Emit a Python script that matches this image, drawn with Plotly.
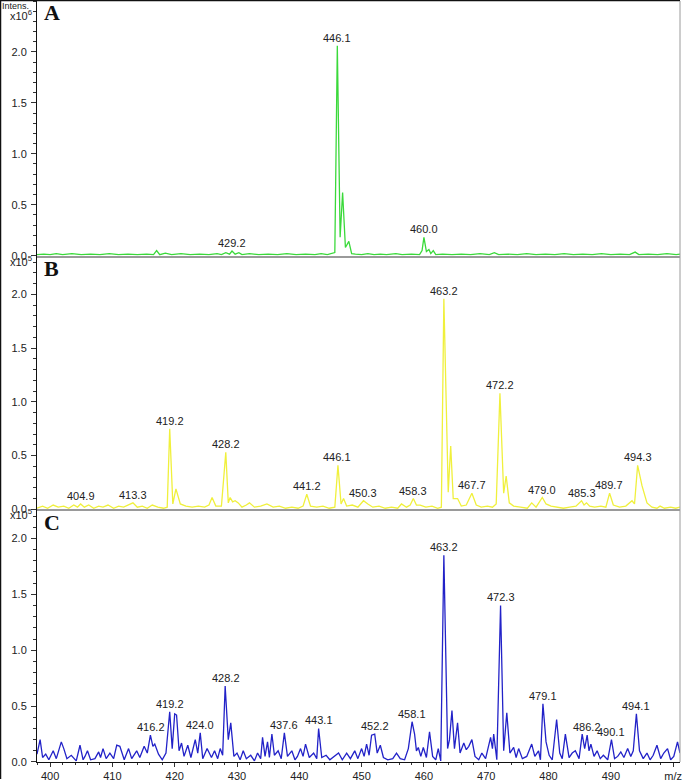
import plotly.graph_objects as go

# ---------------- data ----------------
mz_A = [397.9, 399.0, 400.0, 401.0, 402.0, 403.5, 405.0, 406.5, 408.0, 409.5, 411.0, 412.5, 414.0, 415.5,
        416.6, 417.1, 417.6, 418.5, 419.5, 421.0, 422.5, 424.0, 425.5, 426.8, 427.5, 428.2, 428.8, 429.2,
        429.7, 430.3, 430.8, 432.0, 433.5, 435.0, 436.5, 438.0, 439.5, 441.0, 442.5, 443.5, 444.5, 445.2,
        445.7, 446.1, 446.55, 446.95, 447.4, 447.95, 448.4, 449.0, 450.0, 451.0, 452.0, 453.0, 454.0, 455.5,
        456.5, 458.0, 459.3, 459.7, 460.0, 460.4, 460.8, 461.1, 461.5, 461.9, 463.0, 464.5, 466.0, 467.5,
        469.0, 470.5, 471.3, 472.0, 473.5, 475.0, 476.5, 478.0, 479.5, 481.0, 482.5, 484.0, 485.5, 487.0,
        488.5, 490.0, 491.5, 493.0, 493.9, 494.5, 496.0, 497.5, 499.0, 500.5, 501.1]
int_A = [0.01, 0.015, 0.01, 0.02, 0.01, 0.02, 0.01, 0.015, 0.01, 0.02, 0.01, 0.015, 0.01, 0.015,
         0.01, 0.05, 0.01, 0.025, 0.01, 0.02, 0.01, 0.015, 0.01, 0.02, 0.01, 0.03, 0.015, 0.045,
         0.015, 0.03, 0.01, 0.02, 0.01, 0.015, 0.01, 0.02, 0.01, 0.015, 0.01, 0.02, 0.01, 0.02,
         0.03, 2.06, 0.18, 0.62, 0.08, 0.14, 0.02, 0.015, 0.01, 0.02, 0.01, 0.015, 0.01, 0.02,
         0.01, 0.015, 0.01, 0.05, 0.18, 0.04, 0.06, 0.02, 0.05, 0.01, 0.015, 0.01, 0.015, 0.01,
         0.02, 0.01, 0.03, 0.01, 0.015, 0.01, 0.02, 0.01, 0.015, 0.01, 0.02, 0.01, 0.015, 0.01,
         0.02, 0.01, 0.015, 0.01, 0.035, 0.01, 0.015, 0.01, 0.02, 0.01, 0.015]

mz_B = [397.9, 398.8, 399.6, 400.5, 401.3, 402.2, 403.0, 403.8, 404.4, 404.9, 405.5, 406.2, 407.0, 407.8,
        408.5, 409.3, 410.2, 411.0, 411.8, 412.6, 413.3, 414.0, 414.8, 415.6, 416.4, 417.3, 418.2, 418.8,
        419.2, 419.7, 420.2, 420.9, 421.8, 422.8, 423.8, 424.8, 425.5, 426.0, 426.6, 427.5, 428.2, 428.6,
        428.9, 429.3, 429.7, 430.2, 430.8, 431.5, 432.0, 432.8, 433.8, 434.8, 435.8, 436.8, 437.8, 438.8,
        439.8, 440.6, 441.2, 441.8, 442.8, 443.8, 444.8, 445.7, 446.2, 446.7, 447.1, 447.6, 448.5, 449.4,
        450.3, 451.0, 451.8, 452.8, 453.8, 454.8, 455.8, 456.4, 457.2, 457.8, 458.3, 458.8, 459.4, 460.3,
        461.3, 462.2, 462.8, 463.2, 463.9, 464.3, 464.7, 465.4, 466.0, 466.8, 467.7, 468.4, 469.2, 470.2,
        471.0, 471.6, 472.2, 472.8, 473.2, 473.7, 474.4, 475.5, 476.6, 477.3, 478.0, 479.0, 479.6, 480.4,
        481.4, 482.4, 483.4, 484.4, 485.3, 485.7, 486.1, 486.6, 487.4, 488.4, 489.2, 489.8, 490.4, 491.4,
        492.4, 493.4, 493.8, 494.3, 495.0, 495.8, 496.6, 497.4, 497.9, 498.6, 499.6, 500.4, 501.1]
int_B = [0.01, 0.03, 0.01, 0.04, 0.02, 0.03, 0.01, 0.04, 0.02, 0.05, 0.02, 0.04, 0.01, 0.03,
         0.02, 0.04, 0.01, 0.03, 0.02, 0.04, 0.06, 0.02, 0.03, 0.01, 0.04, 0.02, 0.01, 0.02,
         0.75, 0.05, 0.19, 0.05, 0.03, 0.02, 0.03, 0.02, 0.04, 0.11, 0.03, 0.03, 0.53, 0.06,
         0.11, 0.07, 0.08, 0.06, 0.02, 0.04, 0.06, 0.02, 0.03, 0.05, 0.02, 0.03, 0.01, 0.02,
         0.01, 0.03, 0.14, 0.03, 0.02, 0.03, 0.01, 0.02, 0.41, 0.05, 0.10, 0.03, 0.04, 0.02,
         0.08, 0.05, 0.02, 0.03, 0.01, 0.02, 0.01, 0.05, 0.02, 0.04, 0.10, 0.04, 0.04, 0.02,
         0.03, 0.01, 0.02, 1.96, 0.16, 0.59, 0.10, 0.10, 0.03, 0.04, 0.15, 0.04, 0.02, 0.03,
         0.02, 0.05, 1.08, 0.15, 0.31, 0.06, 0.03, 0.02, 0.01, 0.06, 0.02, 0.11, 0.05, 0.03,
         0.02, 0.01, 0.02, 0.03, 0.08, 0.04, 0.06, 0.03, 0.02, 0.03, 0.02, 0.15, 0.04, 0.02,
         0.03, 0.08, 0.05, 0.41, 0.22, 0.06, 0.02, 0.01, 0.03, 0.01, 0.02, 0.01, 0.02]

mz_C = [397.9, 398.4, 398.8, 399.3, 399.8, 400.5, 401.0, 401.8, 402.2, 402.7, 403.4, 404.2, 404.8, 405.3,
        405.6, 406.0, 406.5, 407.2, 407.8, 408.1, 408.5, 409.0, 409.6, 410.2, 410.7, 411.2, 411.9, 412.6,
        413.1, 413.9, 414.4, 415.1, 415.6, 416.1, 416.5, 416.8, 417.4, 418.0, 418.6, 419.2, 419.6, 420.0,
        420.3, 420.7, 421.1, 421.5, 422.1, 422.6, 423.3, 423.7, 424.1, 424.5, 425.2, 425.9, 426.4, 426.9,
        427.3, 427.7, 428.1, 428.6, 429.0, 429.5, 430.0, 430.5, 431.0, 431.5, 432.2, 432.8, 433.3, 433.8,
        434.1, 434.5, 434.9, 435.2, 435.6, 436.0, 436.6, 437.1, 437.6, 438.1, 438.8, 439.3, 439.7, 440.2,
        440.6, 441.0, 441.6, 442.3, 442.8, 443.1, 443.6, 444.3, 444.9, 445.6, 446.3, 446.9, 447.6, 448.2,
        448.9, 449.4, 450.0, 450.4, 450.8, 451.2, 451.6, 452.1, 452.5, 453.0, 453.5, 454.2, 455.0, 455.6,
        456.2, 456.9, 457.5, 458.1, 458.5, 458.8, 459.1, 459.5, 459.9, 460.4, 460.9, 461.4, 461.9, 462.3,
        462.7, 463.2, 463.8, 464.1, 464.5, 464.9, 465.4, 465.8, 466.4, 466.8, 467.2, 467.7, 468.2, 468.8,
        469.3, 469.9, 470.7, 471.0, 471.2, 471.7, 472.3, 472.8, 473.3, 473.8, 474.4, 474.8, 475.2, 475.8,
        476.5, 477.3, 477.8, 478.4, 478.7, 479.1, 479.6, 480.1, 480.6, 481.3, 481.8, 482.2, 482.7, 483.3,
        483.8, 484.3, 484.9, 485.4, 485.8, 486.2, 486.5, 486.8, 487.3, 487.8, 488.3, 488.8, 489.5, 490.1,
        490.6, 491.1, 491.6, 492.1, 492.7, 493.2, 493.6, 494.1, 494.6, 495.2, 495.8, 496.3, 496.8, 497.4,
        498.0, 498.5, 499.1, 499.6, 500.1, 500.7, 501.1]
int_C = [0.07, 0.20, 0.04, 0.07, 0.02, 0.10, 0.03, 0.18, 0.12, 0.03, 0.06, 0.01, 0.15, 0.02,
         0.05, 0.10, 0.02, 0.03, 0.09, 0.04, 0.12, 0.03, 0.08, 0.03, 0.15, 0.14, 0.02, 0.12,
         0.03, 0.10, 0.04, 0.14, 0.08, 0.24, 0.14, 0.16, 0.07, 0.02, 0.08, 0.45, 0.12, 0.43,
         0.42, 0.10, 0.17, 0.05, 0.15, 0.04, 0.20, 0.08, 0.26, 0.03, 0.12, 0.04, 0.10, 0.03,
         0.12, 0.06, 0.68, 0.20, 0.35, 0.05, 0.08, 0.02, 0.10, 0.03, 0.06, 0.01, 0.08, 0.03,
         0.22, 0.05, 0.18, 0.04, 0.25, 0.06, 0.10, 0.03, 0.26, 0.05, 0.10, 0.02, 0.05, 0.12,
         0.05, 0.16, 0.04, 0.08, 0.03, 0.30, 0.04, 0.06, 0.02, 0.05, 0.08, 0.02, 0.08, 0.03,
         0.10, 0.03, 0.12, 0.05, 0.16, 0.06, 0.24, 0.25, 0.08, 0.15, 0.04, 0.02, 0.03, 0.08,
         0.03, 0.02, 0.12, 0.36, 0.25, 0.10, 0.13, 0.05, 0.13, 0.04, 0.27, 0.05, 0.02, 0.12,
         0.01, 1.85, 0.12, 0.20, 0.46, 0.12, 0.35, 0.08, 0.17, 0.11, 0.14, 0.20, 0.05, 0.02,
         0.08, 0.03, 0.22, 0.12, 0.25, 0.02, 1.40, 0.10, 0.44, 0.08, 0.13, 0.04, 0.12, 0.03,
         0.05, 0.16, 0.05, 0.10, 0.02, 0.52, 0.18, 0.06, 0.02, 0.38, 0.08, 0.03, 0.25, 0.04,
         0.08, 0.10, 0.03, 0.25, 0.12, 0.24, 0.10, 0.16, 0.05, 0.10, 0.03, 0.06, 0.02, 0.20,
         0.03, 0.05, 0.09, 0.04, 0.12, 0.05, 0.10, 0.43, 0.10, 0.03, 0.08, 0.02, 0.06, 0.15,
         0.03, 0.08, 0.12, 0.02, 0.05, 0.18, 0.08]

lab_mz_A = [429.2, 446.1, 460.0]
lab_int_A = [0.045, 2.06, 0.18]
lab_mz_B = [404.9, 413.3, 419.2, 428.2, 441.2, 446.1, 450.3, 458.3, 463.2, 467.7, 472.2, 479.0, 485.3, 489.7, 494.3]
lab_int_B = [0.05, 0.06, 0.75, 0.53, 0.14, 0.41, 0.08, 0.10, 1.96, 0.15, 1.08, 0.11, 0.08, 0.15, 0.41]
lab_mz_C = [416.2, 419.2, 424.0, 428.2, 437.6, 443.1, 452.2, 458.1, 463.2, 472.3, 479.1, 486.2, 490.1, 494.1]
lab_int_C = [0.24, 0.45, 0.26, 0.68, 0.26, 0.30, 0.25, 0.36, 1.85, 1.40, 0.52, 0.24, 0.20, 0.43]

x_ticks = [400, 410, 420, 430, 440, 450, 460, 470, 480, 490, 500]
x_ticktext = ["400", "410", "420", "430", "440", "450", "460", "470", "480", "490", "m/z"]
y_ticks = [0.0, 0.5, 1.0, 1.5, 2.0]

# ---------------- layout geometry ----------------
W, H = 683, 783
ML, MR, MT, MB = 37, 3, 1, 17
pw, ph = W - ML - MR, H - MT - MB
XR = [397.9, 501.1]

def py(y_px):
    return (H - MB - y_px) / ph

def px(x_px):
    return (x_px - ML) / pw

dom_C = [0, py(512)]
dom_B = [py(512), py(257)]
dom_A = [py(257), 1]

fig = go.Figure()
panels = [
    ("A", mz_A, int_A, "#3ad93a", "x", "y", lab_mz_A, lab_int_A),
    ("B", mz_B, int_B, "#f0f03c", "x2", "y2", lab_mz_B, lab_int_B),
    ("C", mz_C, int_C, "#2222c8", "x3", "y3", lab_mz_C, lab_int_C),
]
for name, xs, ys, col, xa, ya, lmz, lint in panels:
    fig.add_trace(go.Scatter(x=xs, y=ys, mode="lines", line=dict(color=col, width=1.3),
                             xaxis=xa, yaxis=ya, showlegend=False, hoverinfo="skip"))
    for m, v in zip(lmz, lint):
        fig.add_annotation(x=m, y=v, xref=xa, yref=ya, text=f"{m:.1f}", showarrow=False,
                           yanchor="bottom", yshift=0,
                           font=dict(family="Liberation Sans, Arial", size=11, color="#222"))

tickfont = dict(family="Liberation Sans, Arial", size=11, color="#222")
xtickfont = dict(family="Liberation Sans, Arial", size=11, color="#222")

def yaxis(dom, rng, anchor):
    return dict(domain=dom, range=rng, anchor=anchor, tickvals=y_ticks, tickformat=".1f",
                ticks="outside", ticklen=5, tickcolor="#333", tickwidth=1,
                showline=True, linecolor="#111", linewidth=1, showgrid=False, zeroline=False,
                tickfont=tickfont, ticklabelstandoff=2,
                minor=dict(dtick=0.1, ticks="outside", ticklen=3, tickcolor="#333", showgrid=False))

def xaxis_hidden(anchor):
    return dict(range=XR, anchor=anchor, showticklabels=False, ticks="", showgrid=False,
                zeroline=False, showline=True, linecolor="#9a9a9a", linewidth=2)

fig.update_layout(
    width=W, height=H, margin=dict(l=ML, r=MR, t=MT, b=MB),
    paper_bgcolor="white", plot_bgcolor="white",
    xaxis=xaxis_hidden("y"),
    xaxis2=xaxis_hidden("y2"),
    xaxis3=dict(range=XR, anchor="y3", tickvals=x_ticks, ticktext=x_ticktext, ticks="outside",
                ticklen=4, tickcolor="#333", showline=True, linecolor="#111", linewidth=1,
                showgrid=False, zeroline=False, tickfont=xtickfont, ticklabelstandoff=0,
                minor=dict(dtick=2, ticks="outside", ticklen=2, tickcolor="#333", showgrid=False)),
    yaxis=yaxis(dom_A, [0, 2.5], "x"),
    yaxis2=yaxis(dom_B, [0, 2.36], "x2"),
    yaxis3=yaxis(dom_C, [0, 2.26], "x3"),
)

# axis captions (anchored by edges)
fig.add_annotation(x=px(1), y=py(0), xref="paper", yref="paper", text="Intens.", showarrow=False,
                   xanchor="left", yanchor="top", borderpad=0,
                   font=dict(family="Liberation Sans, Arial", size=9, color="#222"))
for ycen, exp in [(15, "6"), (262, "5"), (517, "5")]:
    fig.add_annotation(x=px(33), y=py(ycen), xref="paper", yref="paper",
                       text=f"x10<sup>{exp}</sup>", showarrow=False, xanchor="right", yanchor="middle",
                       borderpad=0, font=dict(family="Liberation Sans, Arial", size=11, color="#222"))

# panel letters
for letter, ytop in [("A", 0), ("B", 257), ("C", 513)]:
    fig.add_annotation(x=px(43), y=py(ytop), xref="paper", yref="paper", text=f"<b>{letter}</b>",
                       showarrow=False, xanchor="left", yanchor="top", borderpad=0, yshift=1,
                       font=dict(family="Liberation Serif, Times New Roman", size=22, color="#111"))

# frame lines
fig.add_shape(type="line", xref="paper", yref="paper", x0=px(0.5), x1=px(0.5), y0=py(783), y1=py(0),
              line=dict(color="#111", width=1.5))
fig.add_shape(type="line", xref="paper", yref="paper", x0=px(0), x1=1, y0=py(0.5), y1=py(0.5),
              line=dict(color="#111", width=1.5))
fig.add_shape(type="line", xref="paper", yref="paper", x0=1, x1=1, y0=0, y1=1,
              line=dict(color="#9a9a9a", width=1))

fig.write_html("out.html", config={"displayModeBar": False},
               post_script="document.body.style.margin='0';document.body.style.overflow='hidden';")
